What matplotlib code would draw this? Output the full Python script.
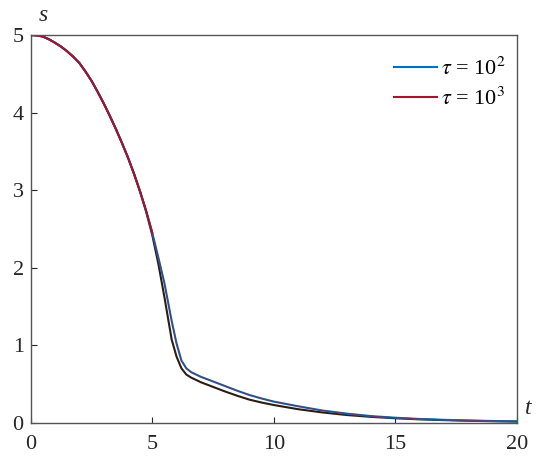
import matplotlib.pyplot as plt
import numpy as np

plt.rcParams['font.family'] = 'Liberation Serif'
plt.rcParams['mathtext.fontset'] = 'stix'

t_vals = [0, 0.25, 0.5, 0.75, 1, 1.25, 1.5, 1.75, 2, 2.25, 2.5, 2.75, 3, 3.25, 3.5,
          3.75, 4, 4.25, 4.5, 4.75, 5, 5.25, 5.5, 5.8, 6.0, 6.2, 6.4, 6.6,
          7, 7.5, 8, 8.5, 9, 9.5, 10, 11, 12, 13, 14, 15, 16, 17, 18, 19, 20]
s_upper = [5.0, 4.995, 4.98, 4.945, 4.90, 4.85, 4.79, 4.72, 4.64, 4.53, 4.41, 4.27,
           4.12, 3.96, 3.79, 3.61, 3.42, 3.21, 2.98, 2.73, 2.45, 2.13, 1.80, 1.31,
           1.02, 0.80, 0.70, 0.65, 0.59, 0.53, 0.47, 0.41, 0.355, 0.31, 0.27, 0.21,
           0.155, 0.115, 0.083, 0.062, 0.046, 0.035, 0.026, 0.02, 0.015]
s_lower = [5.0, 4.995, 4.98, 4.945, 4.90, 4.85, 4.79, 4.72, 4.64, 4.53, 4.41, 4.27,
           4.12, 3.96, 3.79, 3.61, 3.42, 3.21, 2.98, 2.72, 2.42, 2.05, 1.62, 1.07,
           0.85, 0.70, 0.62, 0.58, 0.52, 0.46, 0.40, 0.345, 0.295, 0.258, 0.226, 0.172,
           0.13, 0.097, 0.073, 0.055, 0.041, 0.031, 0.023, 0.017, 0.012]
labels = [r'$\tau$ = 10$^2$', r'$\tau$ = 10$^3$']

fig = plt.figure(figsize=(5.5, 4.7), dpi=100)
ax = fig.add_axes([0.0558, 0.101, 0.884, 0.8245])

ax.plot(t_vals, s_lower, color='#2b1d12', linewidth=1.5)
ax.plot(t_vals, s_upper, color='#0072BD', linewidth=1.5, label=labels[0])
ax.plot(t_vals, s_upper, color='#A2142F', linewidth=0.8, alpha=0.6)
ax.plot(t_vals[:21], s_upper[:21], color='#A2142F', linewidth=1.5, label=labels[1])

ax.set_xlim(0, 20)
ax.set_ylim(0, 5)
ax.set_xticks([0, 5, 10, 15, 20])
ax.set_yticks([0, 1, 2, 3, 4, 5])
ax.tick_params(direction='in', length=4, width=0.8, color='#262626',
               labelsize=16, labelcolor='#262626', top=False, right=False)
ax.tick_params(axis='x', pad=9)
ax.tick_params(axis='y', pad=5)
for sp in ax.spines.values():
    sp.set_color('#555555')
    sp.set_linewidth(1.0)

ax.text(0.35, 5.12, 's', fontsize=17, style='italic', ha='left', va='bottom', color='#262626')
ax.text(20.35, 0.05, 't', fontsize=17, style='italic', ha='left', va='bottom', color='#262626')

ax.legend(loc='upper right', frameon=False, fontsize=16, handlelength=1.9,
          handletextpad=0.2, labelspacing=0.35, borderaxespad=0.1,
          bbox_to_anchor=(1.0, 0.97))

fig.savefig('out.png', dpi=100)
